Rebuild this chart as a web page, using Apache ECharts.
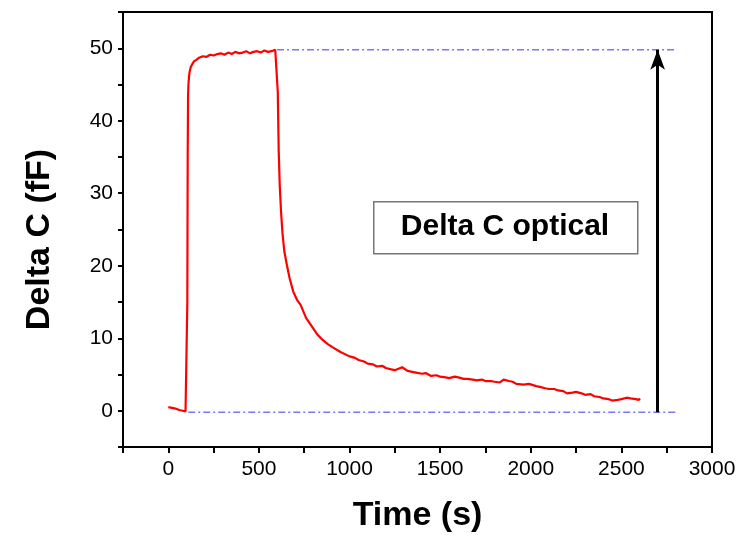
<!DOCTYPE html>
<html>
<head>
<meta charset="utf-8">
<script src="https://cdn.jsdelivr.net/npm/echarts@6/dist/echarts.min.js"></script>
<style>html,body{margin:0;padding:0;background:#fff;}#c{width:742px;height:541px;}</style>
</head>
<body>
<div id="c"></div>
<script>
// ---- data ----
var timeS = [0,20,40,60,80,95,103,105,107,109,111,114,118,124,132,142,155,170,190,210,230,250,270,290,310,330,350,370,390,410,430,450,470,490,510,530,550,570,590,600,604,609,615,622,630,640,655,670,690,710,730,760,790,820,850,880,910,950,1000,1030,1050,1080,1100,1130,1150,1180,1200,1230,1250,1270,1290,1320,1340,1360,1400,1420,1450,1480,1500,1530,1550,1580,1600,1630,1650,1680,1700,1730,1750,1780,1800,1830,1850,1880,1900,1920,1960,1990,2000,2030,2050,2080,2100,2130,2150,2180,2200,2230,2250,2280,2300,2330,2350,2380,2400,2430,2450,2480,2500,2530,2550,2580,2595,2603];
var deltaC = [0.5,0.4,0.3,0.1,0.0,-0.1,-0.2,15,35,43.5,45,46,46.8,47.4,47.8,48.2,48.4,48.7,48.9,48.8,49.1,49.0,49.2,49.3,49.1,49.4,49.2,49.5,49.3,49.4,49.6,49.3,49.5,49.6,49.4,49.7,49.5,49.6,49.8,49.8,44,36,31,27.5,24.5,22,20,18.2,16.4,15.3,14.6,12.8,11.7,10.6,9.8,9.2,8.7,8.1,7.5,7.3,7.0,6.8,6.5,6.4,6.1,6.2,5.9,5.7,5.6,5.8,6.0,5.5,5.4,5.3,5.1,5.2,4.8,4.9,4.7,4.6,4.5,4.7,4.6,4.4,4.4,4.3,4.2,4.3,4.1,4.1,4.0,3.9,4.3,4.1,4.0,3.7,3.6,3.7,3.5,3.4,3.3,3.1,3.0,3.0,2.8,2.7,2.4,2.5,2.6,2.4,2.2,2.3,2.0,1.9,1.7,1.6,1.4,1.5,1.6,1.8,1.7,1.6,1.5,1.7,0.7];
var baseTime = [110, 2800];
var baseVal = [-0.2, -0.2];
var topTime = [600, 2800];
var topVal = [49.8, 49.8];
var arrowTime = 2700;
var arrowFrom = -0.2, arrowTo = 49.8;
var xTickLabels = [0,500,1000,1500,2000,2500,3000];
var yTickLabels = [0,10,20,30,40,50];
var boxText = 'Delta C optical';

function pairs(xs, ys){ return xs.map(function(x,i){return [x, ys[i]];}); }

var chart = echarts.init(document.getElementById('c'));
var dash = {color:'#7878f5', width:1.4, type:[7,3,2,3]};
chart.setOption({
  animation:false,
  backgroundColor:'#fff',
  grid:{left:123, right:30, top:12, bottom:94, show:true, borderColor:'#000', borderWidth:2},
  xAxis:{
    type:'value', min:-250, max:3000, interval:250,
    name:'Time (s)', nameLocation:'middle', nameGap:52,
    nameTextStyle:{fontFamily:'Liberation Sans', fontWeight:'bold', fontSize:34, color:'#000'},
    axisLine:{onZero:false, lineStyle:{color:'#000', width:2}},
    axisTick:{length:6, lineStyle:{color:'#000', width:2}},
    axisLabel:{margin:12, fontFamily:'Liberation Sans', fontSize:21, color:'#000',
      formatter:function(v){ return xTickLabels.indexOf(v)>=0 ? String(v) : ''; }},
    splitLine:{show:false}
  },
  yAxis:{
    type:'value', min:-5, max:55, interval:5,
    name:'Delta C (fF)', nameLocation:'middle', nameGap:66,
    nameTextStyle:{fontFamily:'Liberation Sans', fontWeight:'bold', fontSize:34, color:'#000', padding:[0,20,0,0]},
    axisLine:{onZero:false, lineStyle:{color:'#000', width:2}},
    axisTick:{length:5, lineStyle:{color:'#000', width:2}},
    axisLabel:{margin:10, fontFamily:'Liberation Sans', fontSize:21, color:'#000',
      formatter:function(v){ return yTickLabels.indexOf(v)>=0 ? String(v) : ''; }},
    splitLine:{show:false}
  },
  series:[
    {type:'line', data:pairs(baseTime, baseVal), symbol:'none', lineStyle:dash, z:1},
    {type:'line', data:pairs(topTime, topVal), symbol:'none', lineStyle:dash, z:1},
    {type:'line', data:pairs(timeS, deltaC), symbol:'none', lineStyle:{color:'#ff0000', width:2.2}, z:3},
    {type:'line', data:[], symbol:'none', z:4,
      markLine:{silent:true, symbol:['none','arrow'], symbolSize:[11,20], label:{show:false},
        lineStyle:{color:'#000', width:3, type:'solid'},
        data:[[{coord:[arrowTime, arrowFrom]},{coord:[arrowTime, arrowTo]}]]}}
  ],
  graphic:[
    {type:'rect', left:373, top:201, shape:{width:264, height:52}, style:{fill:'#fff', stroke:'#777', lineWidth:1.5}, z:10},
    {type:'text', x:505, y:227, style:{text:boxText, fontFamily:'Liberation Sans', fontWeight:'bold', fontSize:30, fill:'#000', align:'center', verticalAlign:'middle'}, z:11}
  ]
});
</script>
</body>
</html>
